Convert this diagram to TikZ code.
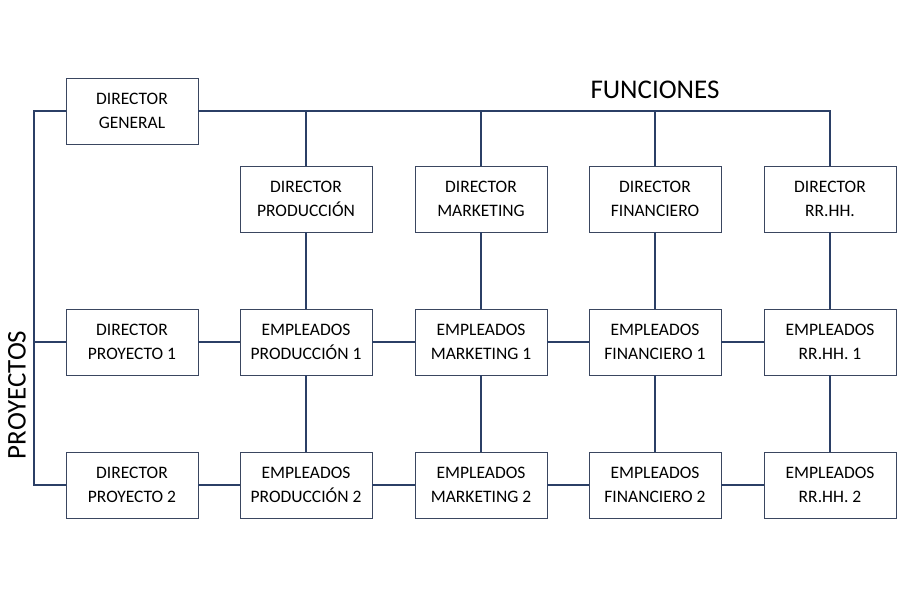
\documentclass[tikz,border=0pt]{standalone}
\usepackage{fontspec}
\setmainfont{Carlito}
\usetikzlibrary{positioning}
\definecolor{linkblue}{HTML}{2B3F66}
\definecolor{boxline}{HTML}{3A4660}
\tikzset{
  box/.style={draw=boxline,line width=0.9pt,fill=white,minimum width=132pt,minimum height=66pt,
    align=center,inner sep=2pt,font=\fontsize{17.5}{24}\selectfont},
  link/.style={draw=linkblue,line width=1.1pt}
}
\begin{document}
\begin{tikzpicture}[x=1pt,y=-1pt]
    \useasboundingbox (0,0) rectangle (900,600);

    \node[box] (DG) at (132,111) {DIRECTOR\\GENERAL};
    \node[box] (DProd) at (306,199) {DIRECTOR\\PRODUCCIÓN};
    \node[box] (DMark) at (481,199) {DIRECTOR\\MARKETING};
    \node[box] (DFin) at (655,199) {DIRECTOR\\FINANCIERO};
    \node[box] (DRH) at (830,199) {DIRECTOR\\RR.HH.};

    \node[box] (DP1) at (132,342) {DIRECTOR\\PROYECTO 1};
    \node[box] (EProd1) at (306,342) {EMPLEADOS\\PRODUCCIÓN 1};
    \node[box] (EMark1) at (481,342) {EMPLEADOS\\MARKETING 1};
    \node[box] (EFin1) at (655,342) {EMPLEADOS\\FINANCIERO 1};
    \node[box] (ERH1) at (830,342) {EMPLEADOS\\RR.HH. 1};

    \node[box] (DP2) at (132,485) {DIRECTOR\\PROYECTO 2};
    \node[box] (EProd2) at (306,485) {EMPLEADOS\\PRODUCCIÓN 2};
    \node[box] (EMark2) at (481,485) {EMPLEADOS\\MARKETING 2};
    \node[box] (EFin2) at (655,485) {EMPLEADOS\\FINANCIERO 2};
    \node[box] (ERH2) at (830,485) {EMPLEADOS\\RR.HH. 2};

    \node[font=\fontsize{27}{32}\selectfont] (Func) at (655,90) {FUNCIONES};
    \node[font=\fontsize{27}{32}\selectfont,rotate=90] (Proy) at (17,395) {PROYECTOS};

    % functions line
    \coordinate (TopR) at (830,111);
    \draw[link] (DG.east) -- (TopR) -- (DRH.north);
    \foreach \n in {DProd,DMark,DFin}
        \draw[link] (\n.north |- DG.east) -- (\n.north);

    % projects line
    \coordinate (LTop) at (34,111);
    \coordinate (LBot) at (34,485);
    \draw[link] (DG.west) -- (LTop) -- (LBot) -- (DP2.west);
    \draw[link] (LTop |- DP1.west) -- (DP1.west);

    % columns
    \foreach \a/\b/\c in {DProd/EProd1/EProd2,DMark/EMark1/EMark2,DFin/EFin1/EFin2,DRH/ERH1/ERH2}{
        \draw[link] (\a) -- (\b);
        \draw[link] (\b) -- (\c);
    }

    % rows
    \draw[link] (DP1) -- (EProd1) -- (EMark1) -- (EFin1) -- (ERH1);
    \draw[link] (DP2) -- (EProd2) -- (EMark2) -- (EFin2) -- (ERH2);
\end{tikzpicture}
\end{document}
